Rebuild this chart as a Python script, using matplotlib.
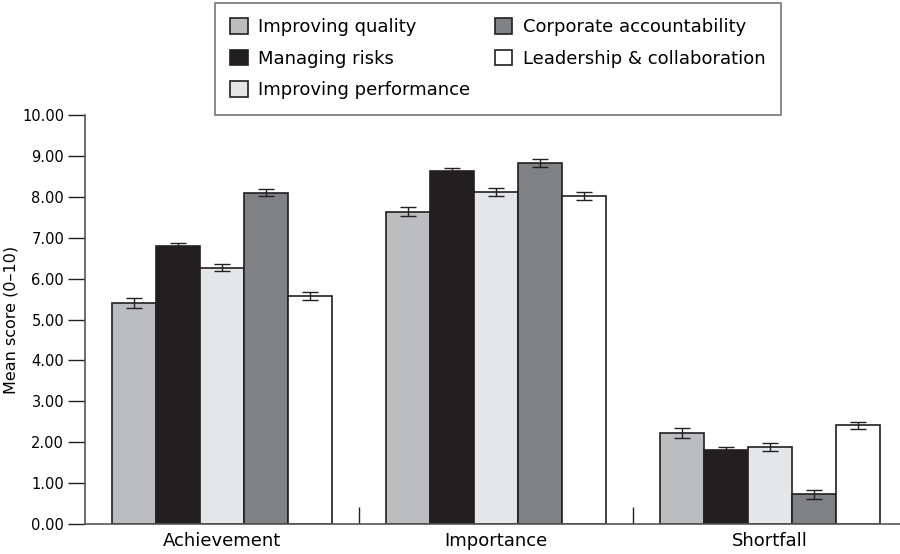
import numpy as np
import matplotlib
matplotlib.use("Agg")
import matplotlib.pyplot as plt

# data
groups = ["Achievement", "Importance", "Shortfall"]
series = ["Improving quality", "Managing risks", "Improving performance",
          "Corporate accountability", "Leadership & collaboration"]
colors = ["#bcbdbf", "#231f20", "#e5e6e8", "#808184", "#ffffff"]

improving_quality = [5.40, 7.64, 2.22]
managing_risks = [6.80, 8.64, 1.82]
improving_performance = [6.27, 8.12, 1.88]
corporate_accountability = [8.10, 8.83, 0.73]
leadership_collab = [5.58, 8.01, 2.41]

err_quality = [0.12, 0.12, 0.12]
err_risks = [0.08, 0.07, 0.07]
err_performance = [0.09, 0.10, 0.10]
err_corporate = [0.09, 0.09, 0.11]
err_leadership = [0.10, 0.10, 0.09]

values = [improving_quality, managing_risks, improving_performance,
          corporate_accountability, leadership_collab]
errors = [err_quality, err_risks, err_performance, err_corporate, err_leadership]

fig = plt.figure(figsize=(9, 5.54), dpi=100)
ax = fig.add_axes([85 / 900, 30 / 554, 822 / 900, 409 / 554])

x = np.arange(len(groups))
width = 0.161
for i, (name, vals, errs, col) in enumerate(zip(series, values, errors, colors)):
    pos = x + (i - 2) * width
    ax.bar(pos, vals, width, color=col, edgecolor="#231f20", linewidth=1.2,
           label=name, zorder=2)
    ax.errorbar(pos, vals, yerr=errs, fmt="none", ecolor="#231f20",
                elinewidth=1.0, capsize=6, capthick=1.0, zorder=3)

ax.set_xlim(-0.5, 2.5)
ax.set_ylim(0, 10)
ax.set_yticks(np.arange(0, 11, 1))
ax.set_yticklabels([f"{v:.2f}" for v in np.arange(0, 11, 1)], fontsize=10.5)
ax.set_xticks(x)
ax.set_xticklabels(groups, fontsize=13)
ax.set_xticks([0.5, 1.5], minor=True)
ax.tick_params(axis="x", which="major", length=0, pad=6)
ax.tick_params(axis="x", which="minor", direction="in", length=12, width=1,
               color="#231f20")
ax.tick_params(axis="y", length=12, width=1, color="#231f20", pad=3)
ax.set_ylabel("Mean score (0–10)", fontsize=11.5)
ax.yaxis.set_label_coords(-67 / 822, 0.5)

for side in ["top", "right"]:
    ax.spines[side].set_visible(False)
for side in ["left", "bottom"]:
    ax.spines[side].set_color("#555555")
    ax.spines[side].set_linewidth(1.2)

leg = fig.legend(loc="upper left", bbox_to_anchor=(215 / 900, 1 - 3 / 554),
                 ncol=2, fontsize=13, frameon=True, fancybox=False,
                 edgecolor="#555555", borderaxespad=0, borderpad=0.85,
                 handlelength=0.95, handleheight=0.95, handletextpad=0.6,
                 columnspacing=1.35, labelspacing=0.75)
leg.get_frame().set_linewidth(1.2)

fig.savefig("out.png", dpi=100)
